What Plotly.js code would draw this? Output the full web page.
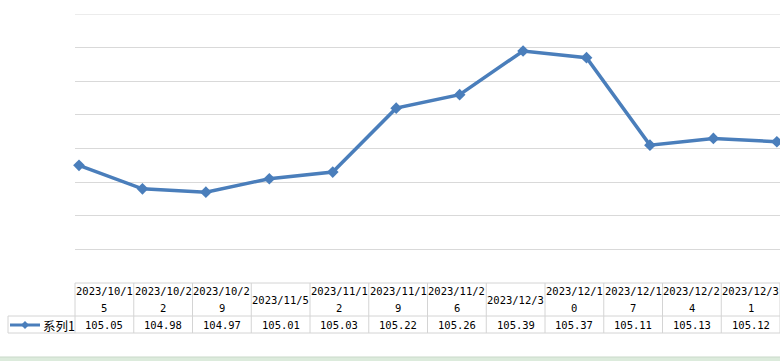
<!DOCTYPE html>
<html><head><meta charset="utf-8">
<script src="https://cdn.plot.ly/plotly-3.0.1.min.js"></script>
<style>html,body{margin:0;padding:0;background:#fff;}#chart{width:780px;height:361px;}</style>
</head><body><div id="chart"></div>
<script>
const categories = ["2023/10/15","2023/10/22","2023/10/29","2023/11/5","2023/11/12","2023/11/19","2023/11/26","2023/12/3","2023/12/10","2023/12/17","2023/12/24","2023/12/31"];
const headerLine1 = ["2023/10/1","2023/10/2","2023/10/2","2023/11/5","2023/11/1","2023/11/1","2023/11/2","2023/12/3","2023/12/1","2023/12/1","2023/12/2","2023/12/3"];
const headerLine2 = ["5","2","9","","2","9","6","","0","7","4","1"];
const values = [105.05,104.98,104.97,105.01,105.03,105.22,105.26,105.39,105.37,105.11,105.13,105.12];
const seriesName = "系列1";

const W = 780, H = 361, L = 75, T = 14, B = 78;
const pw = W - L, ph = H - T - B;
const py = Y => (H - B - Y) / ph;      // pixel row -> paper y
const px = X => (X - L) / pw;          // pixel col -> paper x
const blue = "#4a7ebb", border = "#d4d4d4";
const font = {family: "DejaVu Sans Mono, Noto Sans CJK SC, monospace", size: 10.5, color: "#000"};
const nCol = categories.length;

const shapes = [], annotations = [];
// top gridline
shapes.push({type:"line", xref:"paper", yref:"y", x0:0, x1:1, y0:105.5, y1:105.5, line:{color:"#d9d9d9",width:1}});
// table lines
shapes.push({type:"line", xref:"paper", yref:"paper", x0:0, x1:1, y0:0, y1:0, line:{color:border,width:1}});
shapes.push({type:"line", xref:"paper", yref:"paper", x0:px(8), x1:1, y0:py(316), y1:py(316), line:{color:border,width:1}});
shapes.push({type:"line", xref:"paper", yref:"paper", x0:px(8), x1:1, y0:py(333), y1:py(333), line:{color:border,width:1}});
shapes.push({type:"line", xref:"paper", yref:"paper", x0:px(8), x1:px(8), y0:py(316), y1:py(333), line:{color:border,width:1}});
for (let k = 0; k <= nCol; k++) {
  shapes.push({type:"line", xref:"paper", yref:"paper", x0:k/nCol, x1:k/nCol, y0:0, y1:py(333), line:{color:border,width:1}});
}
categories.forEach((c, i) => {
  const cx = (i + 0.5) / nCol;
  const two = headerLine2[i] !== "";
  annotations.push({xref:"paper", yref:"paper", x:cx, y:py(two ? 291 : 299.5), text:headerLine1[i], showarrow:false, font:font, xanchor:"center", yanchor:"middle"});
  if (two) annotations.push({xref:"paper", yref:"paper", x:cx, y:py(308), text:headerLine2[i], showarrow:false, font:font, xanchor:"center", yanchor:"middle"});
  annotations.push({xref:"paper", yref:"paper", x:cx, y:py(325), text:values[i].toFixed(2), showarrow:false, font:font, xanchor:"center", yanchor:"middle"});
});
// legend key in table
shapes.push({type:"line", xref:"paper", yref:"paper", x0:px(10), x1:px(40), y0:py(325), y1:py(325), line:{color:blue,width:3}});
const dx = 4/pw, dy = 4/ph, kx = px(25), ky = py(325);
shapes.push({type:"path", xref:"paper", yref:"paper", path:`M${kx-dx},${ky} L${kx},${ky+dy} L${kx+dx},${ky} L${kx},${ky-dy} Z`, fillcolor:blue, line:{color:blue,width:0}});
annotations.push({xref:"paper", yref:"paper", x:px(41), y:py(325), text:seriesName, showarrow:false, xanchor:"left", yanchor:"middle", font:{family:"Noto Sans CJK SC, sans-serif", size:12.5, color:"#000"}});
// sheet band at bottom
shapes.push({type:"rect", xref:"paper", yref:"paper", x0:px(0), x1:px(780), y0:py(361), y1:py(357), fillcolor:"#dcebdc", line:{width:0}});
shapes.push({type:"line", xref:"paper", yref:"paper", x0:px(0), x1:px(780), y0:py(357), y1:py(357), line:{color:"#c9d9c9",width:1}});

const trace = {
  x: categories, y: values, type: "scatter", mode: "lines+markers", name: seriesName,
  line: {color: blue, width: 3.5}, marker: {symbol: "diamond", size: 9, color: blue},
  cliponaxis: false, hoverinfo: "none"
};
const layout = {
  width: W, height: H, margin: {l: L, r: 0, t: T, b: B},
  paper_bgcolor: "#fff", plot_bgcolor: "#fff", showlegend: false,
  xaxis: {type: "category", range: [-0.063, 11.05], showticklabels: false, showgrid: false, zeroline: false, ticks: ""},
  yaxis: {range: [104.7, 105.5], dtick: 0.1, tick0: 104.7, showticklabels: false, gridcolor: "#d9d9d9", gridwidth: 1, zeroline: false, ticks: ""},
  shapes: shapes, annotations: annotations
};
Plotly.newPlot("chart", [trace], layout, {displayModeBar: false, staticPlot: true});
</script></body></html>
